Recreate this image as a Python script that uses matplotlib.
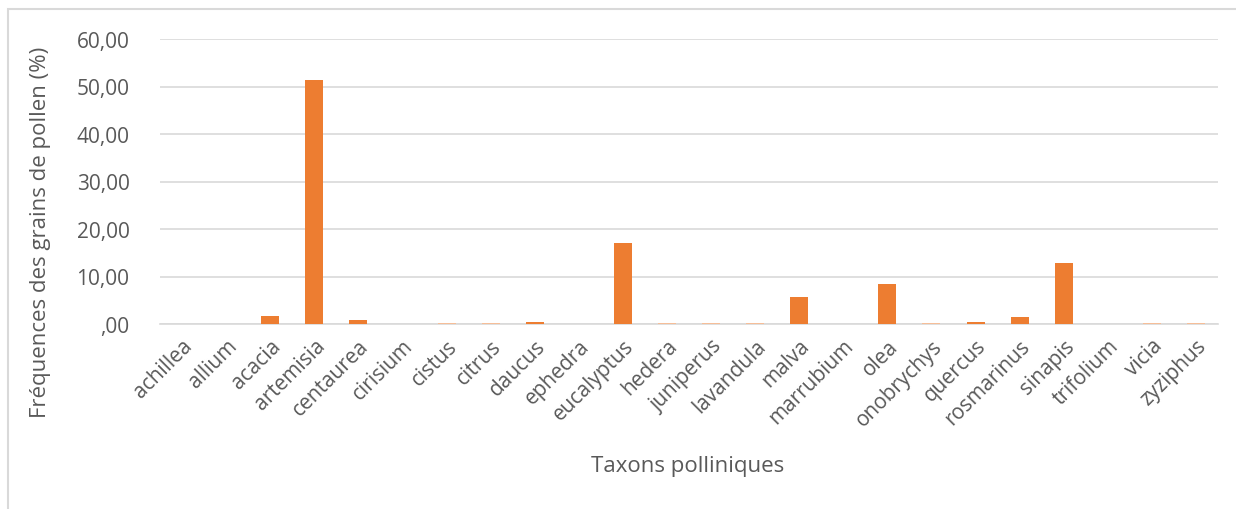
import matplotlib
matplotlib.use("Agg")
import matplotlib.pyplot as plt
from matplotlib.patches import Rectangle
from matplotlib.ticker import FuncFormatter

plt.rcParams['font.family'] = ['Open Sans', 'DejaVu Sans']

taxa = ["achillea", "allium", "acacia", "artemisia", "centaurea", "cirisium",
        "cistus", "citrus", "daucus", "ephedra", "eucalyptus", "hedera",
        "juniperus", "lavandula", "malva", "marrubium", "olea", "onobrychys",
        "quercus", "rosmarinus", "sinapis", "trifolium", "vicia", "zyziphus"]
frequencies = [0.0, 0.0, 1.65, 51.37, 0.85, 0.0,
               0.2, 0.2, 0.45, 0.0, 17.0, 0.2,
               0.2, 0.2, 5.65, 0.0, 8.42, 0.2,
               0.4, 1.4, 12.77, 0.0, 0.2, 0.2]
y_ticks = [0, 10, 20, 30, 40, 50, 60]

bar_color = "#ED7D31"
small_bar_color = "#F6BE98"
text_color = "#595959"
grid_color = "#D9D9D9"

fig = plt.figure(figsize=(12.36, 5.10), dpi=100)
ax = fig.add_axes([160 / 1236, 1 - 325 / 510, (1218 - 160) / 1236, (325 - 40) / 510])

x = range(len(taxa))
colors = [bar_color if v >= 0.3 else small_bar_color for v in frequencies]
ax.bar(x, frequencies, width=0.41, color=colors, zorder=3)

ax.set_xlim(-0.5, len(taxa) - 0.5)
ax.set_ylim(0, 60)
ax.set_yticks(y_ticks)
ax.yaxis.set_major_formatter(FuncFormatter(
    lambda v, _: ",00" if v == 0 else f"{v:.2f}".replace(".", ",")))
ax.set_xticks(list(x))
ax.set_xticklabels(taxa, rotation=45, ha="right", rotation_mode="anchor")

ax.grid(axis="y", color=grid_color, linewidth=1.2, zorder=0)
for side in ("top", "right", "left"):
    ax.spines[side].set_visible(False)
ax.spines["bottom"].set_color(grid_color)
ax.spines["bottom"].set_linewidth(1.2)
ax.spines["bottom"].set_zorder(1)
ax.tick_params(axis="both", length=0, colors=text_color, labelsize=15)
ax.tick_params(axis="y", pad=22)
ax.tick_params(axis="x", pad=8)

fig.text(41 / 1236, 1 - 232 / 510, "Fréquences des grains de pollen (%)",
         color=text_color, fontsize=16, rotation=90, ha="center", va="center")
fig.text(688 / 1236, 1 - 467 / 510, "Taxons polliniques", color=text_color,
         fontsize=16, ha="center", va="center")

# chart frame
fig.patches.append(Rectangle((8 / 1236, -0.05), 1.1, 1 - 10 / 510 + 0.05,
                             transform=fig.transFigure, fill=False,
                             edgecolor=grid_color, linewidth=1.5))

fig.savefig("out.png", dpi=100)
